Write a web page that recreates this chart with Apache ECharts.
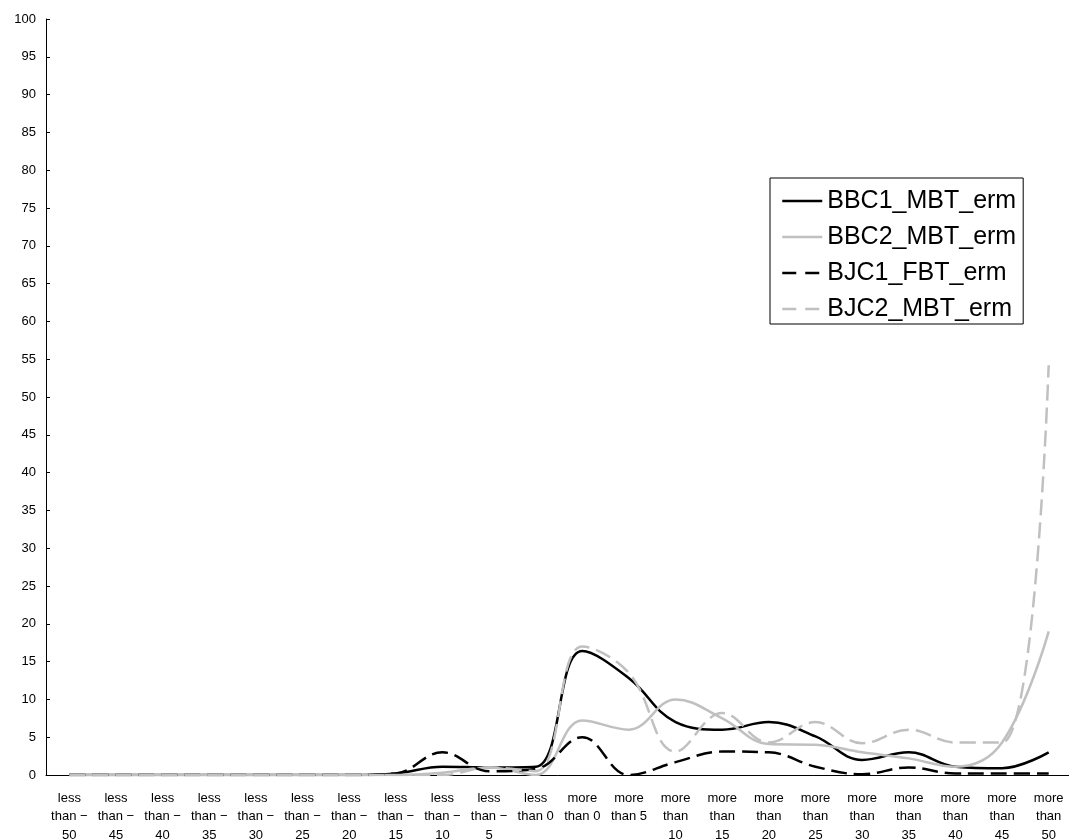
<!DOCTYPE html>
<html>
<head>
<meta charset="utf-8">
<script src="https://cdn.jsdelivr.net/npm/echarts@6/dist/echarts.min.js"></script>
<style>html,body{margin:0;padding:0;background:#fff;}#c{width:1069px;height:839px;}</style>
</head>
<body>
<div id="c"></div>
<script>
const categories = ['less\nthan −\n50','less\nthan −\n45','less\nthan −\n40','less\nthan −\n35','less\nthan −\n30','less\nthan −\n25','less\nthan −\n20','less\nthan −\n15','less\nthan −\n10','less\nthan −\n5','less\nthan 0','more\nthan 0','more\nthan 5','more\nthan\n10','more\nthan\n15','more\nthan\n20','more\nthan\n25','more\nthan\n30','more\nthan\n35','more\nthan\n40','more\nthan\n45','more\nthan\n50'];
const BBC1_MBT_erm = [0,0,0,0,0,0,0,0.2,1.1,1.0,1.1,16.4,12.8,7.0,6.0,7.0,5.1,2.0,3.0,1.1,0.9,3.0];
const BBC2_MBT_erm = [0,0,0,0,0,0,0,0,0.3,1.0,0,7.2,6.0,10.0,7.5,4.1,4.0,3.0,2.2,1.1,4.3,19.0];
const BJC1_FBT_erm = [0,0,0,0,0,0,0,0.2,3.0,0.5,0.8,5.0,0,1.7,3.1,3.0,1.1,0.1,1.0,0.2,0.2,0.2];
const BJC2_MBT_erm = [0,0,0,0,0,0,0,0,0,1.0,0.5,17.0,13.5,3.1,8.2,4.3,7.0,4.2,6.0,4.3,4.3,54.2];
const yMin = 0, yMax = 100, yStep = 5;

const chart = echarts.init(document.getElementById('c'));
const FONT = 'Liberation Sans, Arial, sans-serif';
function mk(name, data, color, dashed) {
  return {
    name: name, type: 'line', data: data, smooth: 0.4,
    symbol: 'none', showSymbol: false,
    lineStyle: { color: color, width: 2.5, type: dashed ? [16, 7] : 'solid' },
    itemStyle: { color: color }
  };
}
function leg(name, color, dashed) {
  return {
    name: name,
    itemStyle: { opacity: 0, borderWidth: 0 },
    lineStyle: { color: color, width: 2.5, type: dashed ? [14, 9] : 'solid', opacity: 1 }
  };
}
chart.setOption({
  animation: false,
  backgroundColor: '#fff',
  textStyle: { fontFamily: FONT },
  grid: { left: 46, top: 19, width: 1026, height: 756, containLabel: false, outerBoundsMode: 'none' },
  legend: {
    orient: 'vertical', left: 770, top: 178,
    padding: [10, 7, 2, 11],
    borderColor: '#000', borderWidth: 1,
    itemWidth: 40, itemHeight: 14, itemGap: 10,
    textStyle: { fontSize: 25, color: '#000', lineHeight: 26, fontFamily: FONT },
    data: [
      leg('BBC1_MBT_erm', '#000000', false),
      leg('BBC2_MBT_erm', '#c0c0c0', false),
      leg('BJC1_FBT_erm', '#000000', true),
      leg('BJC2_MBT_erm', '#c0c0c0', true)
    ]
  },
  xAxis: {
    type: 'category', data: categories, boundaryGap: true,
    axisLine: { lineStyle: { color: '#000', width: 1 } },
    axisTick: { inside: true, length: 4, lineStyle: { color: '#000' } },
    axisLabel: { interval: 0, color: '#000', fontSize: 13, lineHeight: 18.5, margin: 14 }
  },
  yAxis: {
    type: 'value', min: yMin, max: yMax, interval: yStep,
    splitLine: { show: false },
    axisLine: { show: true, lineStyle: { color: '#000', width: 1 } },
    axisTick: { show: true, inside: true, length: 4, lineStyle: { color: '#000' } },
    axisLabel: { color: '#000', fontSize: 13, margin: 10 }
  },
  series: [
    mk('BBC1_MBT_erm', BBC1_MBT_erm, '#000000', false),
    mk('BBC2_MBT_erm', BBC2_MBT_erm, '#c0c0c0', false),
    mk('BJC1_FBT_erm', BJC1_FBT_erm, '#000000', true),
    mk('BJC2_MBT_erm', BJC2_MBT_erm, '#c0c0c0', true)
  ]
});
</script>
</body>
</html>
